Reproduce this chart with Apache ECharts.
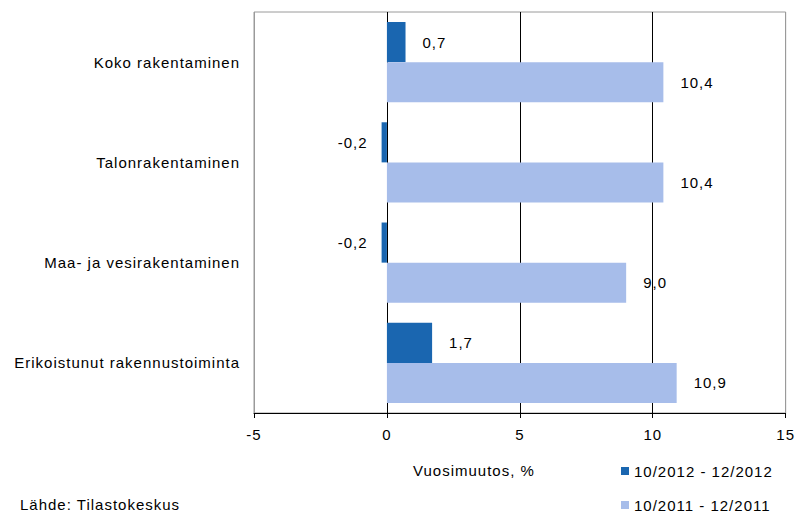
<!DOCTYPE html>
<html>
<head>
<meta charset="utf-8">
<script src="https://cdn.jsdelivr.net/npm/echarts@6/dist/echarts.min.js"></script>
<style>html,body{margin:0;padding:0;background:#fff}#c{width:797px;height:513px;letter-spacing:1px}</style>
</head>
<body>
<div id="c"></div>
<script>
var categories = ['Koko rakentaminen', 'Talonrakentaminen', 'Maa- ja vesirakentaminen', 'Erikoistunut rakennustoiminta'];
var seriesNames = ['10/2012 - 12/2012', '10/2011 - 12/2011'];
var values2012 = [0.7, -0.2, -0.2, 1.7];
var values2011 = [10.4, 10.4, 9.0, 10.9];
var xTicks = [-5, 0, 5, 10, 15];
var axisName = 'Vuosimuutos, %';
var sourceText = 'Lähde: Tilastokeskus';

var FONT = '"Liberation Sans", Arial, sans-serif';
var FS = 15;
function fmt(v) { return v.toFixed(1).replace('.', ','); }
function mkData(arr) {
  return arr.map(function (v) {
    return {
      value: v,
      label: { position: v < 0 ? 'left' : 'right', distance: v < 0 ? 14 : 17 }
    };
  });
}
var labelStyle = {
  show: true, color: '#000', fontSize: FS, fontFamily: FONT,
  formatter: function (p) { return fmt(p.value); }
};

var chart = echarts.init(document.getElementById('c'), null, { renderer: 'svg' });
chart.setOption({
  animation: false,
  backgroundColor: '#fff',
  grid: { left: 254, right: 7, top: 12, bottom: 100, show: true, borderColor: '#9a9a9a', borderWidth: 1 },
  xAxis: {
    type: 'value', min: xTicks[0], max: xTicks[xTicks.length - 1], interval: 5,
    axisLine: { show: true, onZero: false, lineStyle: { color: '#000', width: 1 } },
    axisTick: { show: true, length: 5, lineStyle: { color: '#000' } },
    axisLabel: { color: '#000', fontSize: FS, fontFamily: FONT, margin: 14 },
    splitLine: { show: true, lineStyle: { color: ['#9a9a9a', '#000', '#000', '#000', '#9a9a9a'], width: 1 } }
  },
  yAxis: {
    type: 'category', data: categories, inverse: true,
    axisLine: { show: false }, axisTick: { show: false },
    axisLabel: { color: '#000', fontSize: FS, fontFamily: FONT, margin: 14, padding: [6, 0, 0, 0] }
  },
  legend: [
    {
      orient: 'vertical', left: 621, top: 463, padding: 0, itemWidth: 8, itemHeight: 8,
      icon: 'rect', textStyle: { color: '#000', fontSize: FS, fontFamily: FONT, lineHeight: 16 },
      data: [seriesNames[0]]
    },
    {
      orient: 'vertical', left: 621, top: 497, padding: 0, itemWidth: 8, itemHeight: 8,
      icon: 'rect', textStyle: { color: '#000', fontSize: FS, fontFamily: FONT, lineHeight: 16 },
      data: [seriesNames[1]]
    }
  ],
  graphic: [
    { type: 'text', left: 413, top: 463, style: { text: axisName, fill: '#000', font: FS + 'px ' + FONT } },
    { type: 'text', left: 20, top: 496, style: { text: sourceText, fill: '#000', font: FS + 'px ' + FONT, lineHeight: 16 } }
  ],
  series: [
    {
      name: seriesNames[0], type: 'bar', data: mkData(values2012),
      itemStyle: { color: '#1a66b0' }, barGap: '0%', barCategoryGap: '20%',
      label: labelStyle
    },
    {
      name: seriesNames[1], type: 'bar', data: mkData(values2011),
      itemStyle: { color: '#a7bdea' }, barGap: '0%', barCategoryGap: '20%',
      label: labelStyle
    }
  ]
});
</script>
</body>
</html>
